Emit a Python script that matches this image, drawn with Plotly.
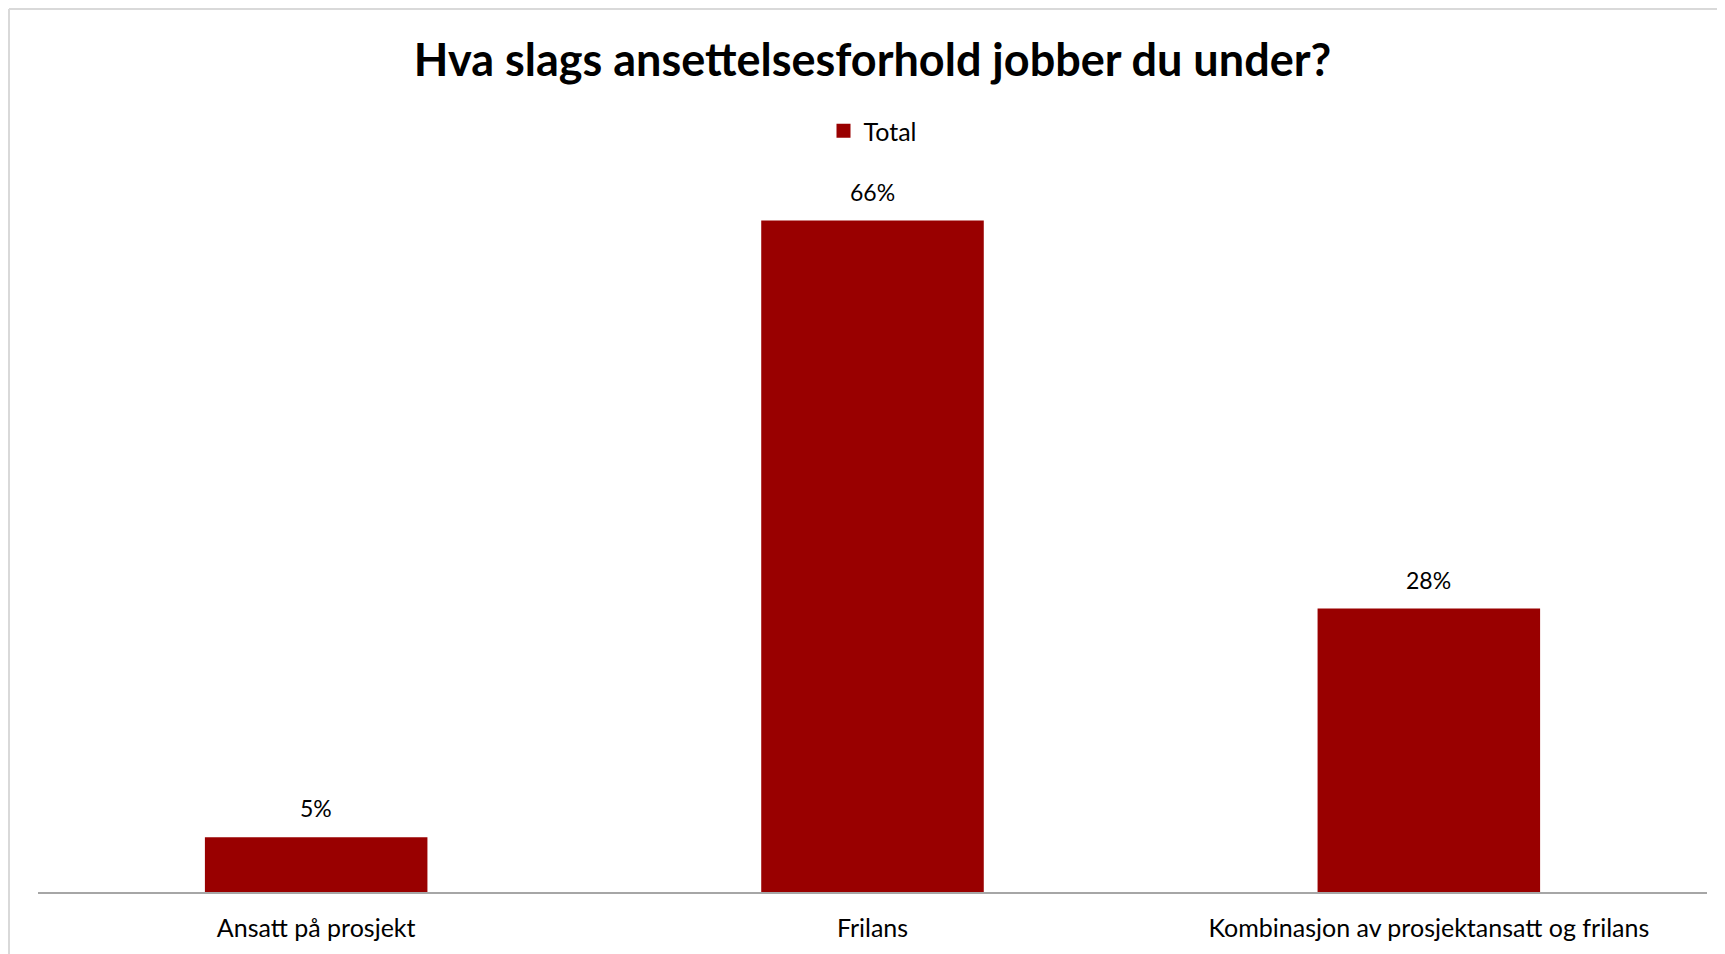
import plotly.graph_objects as go

categories = ['Ansatt på prosjekt', 'Frilans', 'Kombinasjon av prosjektansatt og frilans']
total = [0.054, 0.661, 0.279]

bar_color = '#990000'
font_family = 'Lato, Calibri, sans-serif'

# the page body has an 8px margin, so the figure is shifted by that much
OFF = 8
W, H = 1725 - OFF, 954 - OFF
m_l, m_r, m_t, m_b = 38 - OFF, 18, 181 - OFF, 62
plot_w = W - m_l - m_r
plot_h = H - m_t - m_b


def px_to_paper_x(px):
    return (px - OFF - m_l) / plot_w


def px_to_paper_y(py):
    return (H - m_b - (py - OFF)) / plot_h


fig = go.Figure()

fig.add_trace(go.Bar(
    x=categories, y=total, name='Total', showlegend=False,
    marker=dict(color=bar_color, line=dict(width=0)),
))

# legend entry with a larger square swatch
fig.add_trace(go.Scatter(
    x=[None], y=[None], mode='markers', name='Total',
    marker=dict(symbol='square', size=14, color=bar_color),
))

# data labels above the bars
for cat, val in zip(categories, total):
    fig.add_annotation(
        x=cat, y=val, text=f'{val:.0%}', showarrow=False,
        yanchor='bottom', yshift=13,
        font=dict(family=font_family, size=23, color='#000000'),
    )

# chart-area border (cropped on right and bottom)
border = dict(color='#d9d9d9', width=2)
fig.add_shape(type='line', xref='paper', yref='paper',
              x0=px_to_paper_x(9), x1=px_to_paper_x(1740),
              y0=px_to_paper_y(9), y1=px_to_paper_y(9), line=border)
fig.add_shape(type='line', xref='paper', yref='paper',
              x0=px_to_paper_x(9), x1=px_to_paper_x(9),
              y0=px_to_paper_y(9), y1=px_to_paper_y(970), line=border)

fig.update_layout(
    width=W, height=H,
    margin=dict(l=m_l, r=m_r, t=m_t, b=m_b),
    paper_bgcolor='white', plot_bgcolor='white',
    bargap=0.6,
    title=dict(
        text='<b>Hva slags ansettelsesforhold jobber du under?</b>',
        x=0.5, xref='paper', xanchor='center',
        y=1 - (60 - OFF) / H, yanchor='middle',
        font=dict(family=font_family, size=45, color='#000000'),
    ),
    showlegend=True,
    legend=dict(
        orientation='h', x=0.5, xanchor='center',
        y=px_to_paper_y(131), yanchor='middle',
        font=dict(family=font_family, size=25, color='#000000'),
        itemwidth=30,
    ),
    xaxis=dict(
        showline=True, linecolor='#a6a6a6', linewidth=2,
        ticks='', showgrid=False, zeroline=False,
        ticklabelstandoff=13,
        tickfont=dict(family=font_family, size=25, color='#000000'),
    ),
    yaxis=dict(
        range=[0, 0.7], visible=False, showgrid=False, zeroline=False,
    ),
)

fig.write_html('out.html')
